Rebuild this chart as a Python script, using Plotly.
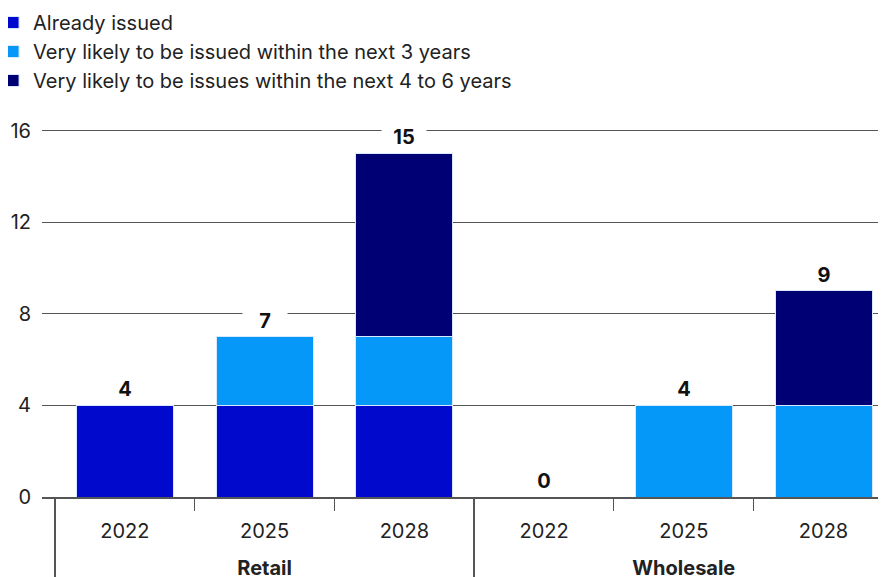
import plotly.graph_objects as go

groups = ["Retail", "Retail", "Retail", "Wholesale", "Wholesale", "Wholesale"]
years = ["2022", "2025", "2028", "2022", "2025", "2028"]
already = [4, 4, 4, 0, 0, 0]
next3 = [0, 3, 3, 0, 4, 4]
next4to6 = [0, 0, 8, 0, 0, 5]
series_names = [
    "Already issued",
    "Very likely to be issued within the next 3 years",
    "Very likely to be issues within the next 4 to 6 years",
]
colors = ["#0009CC", "#0598F8", "#000075"]
y_ticks = [0, 4, 8, 12, 16]

FONT = "Inter"
grp_labels = ["<b>%s</b>" % g for g in groups]
year_labels = ["%s<br> " % y for y in years]
x = [grp_labels, year_labels]

fig = go.Figure()
for name, vals, col in zip(series_names, [already, next3, next4to6], colors):
    fig.add_trace(go.Bar(
        x=x, y=vals, name=name,
        marker=dict(color=col, line=dict(color="#d8e8ff", width=1)),
    ))

totals = [a + b + c for a, b, c in zip(already, next3, next4to6)]
for i, t in enumerate(totals):
    fig.add_annotation(
        x=[grp_labels[i], year_labels[i]], y=t, text="<b>%d</b>" % t,
        showarrow=False, yanchor="bottom", yshift=1,
        bgcolor="white", borderpad=2, width=40,
        font=dict(family=FONT, size=20, color="#111"),
    )

fig.update_layout(
    barmode="stack",
    bargap=0.306,
    width=878, height=569,
    margin=dict(l=34, r=0, t=118, b=80, autoexpand=False),
    plot_bgcolor="white", paper_bgcolor="white",
    font=dict(family=FONT, size=20, color="#222"),
    showlegend=True,
    legend=dict(
        x=-0.058, y=1.3315, xref="paper", yref="paper",
        xanchor="left", yanchor="top",
        font=dict(family=FONT, size=20, color="#222"),
        traceorder="normal", tracegroupgap=0,
        bgcolor="rgba(0,0,0,0)",
    ),
    xaxis=dict(
        type="multicategory",
        range=[-0.593, 5.447],
        showline=True, linecolor="#555", linewidth=1.5,
        ticks="outside", ticklen=12, tickcolor="#555",
        showdividers=True, dividercolor="#555", dividerwidth=1.5,
        tickfont=dict(family=FONT, size=20, color="#222"),
        ticklabelstandoff=15,
        showgrid=False,
    ),
    yaxis=dict(
        range=[0, 16.2],
        tickvals=y_ticks,
        showgrid=True, gridcolor="#555", gridwidth=1,
        zeroline=False,
        ticks="", ticklabelstandoff=10,
        tickfont=dict(family=FONT, size=20, color="#222"),
    ),
)

fig.write_html("out.html")
